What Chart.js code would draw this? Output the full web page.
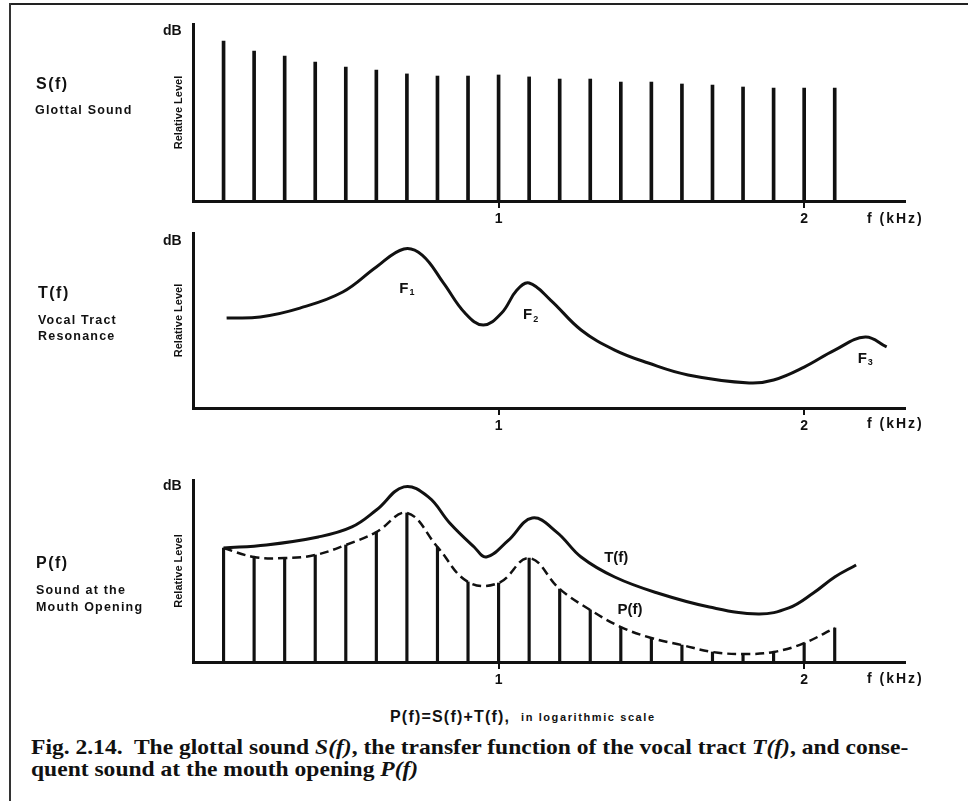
<!DOCTYPE html>
<html>
<head>
<meta charset="utf-8">
<script src="https://cdn.jsdelivr.net/npm/chart.js@4.4.1/dist/chart.umd.min.js"></script>
<style>
  body { margin: 0; background: #fff; }
  #fig { position: relative; width: 968px; height: 801px; overflow: hidden; color: #111;
         font-family: "Liberation Sans", Arial, sans-serif; font-weight: bold; }
  #fig canvas { position: absolute; left: 0; }
  .rule-top { position: absolute; left: 9px; top: 3px; width: 959px; border-top: 2px solid #222; }
  .rule-left { position: absolute; left: 9px; top: 3px; height: 798px; border-left: 2px solid #333; }
  .t { position: absolute; white-space: nowrap; line-height: 1; }
  .name { font-size: 16px; letter-spacing: 1.5px; }
  .desc { font-size: 12.5px; letter-spacing: 1.2px; }
  .db { font-size: 14px; left: 163px; }
  .fk { font-size: 14px; left: 867px; letter-spacing: 2px; }
  .cap { font-family: "Liberation Serif", "Times New Roman", serif; font-size: 21px; left: 31px;
         transform-origin: 0 50%; }
</style>
</head>
<body>
<div id="fig">
  <div class="rule-top"></div>
  <div class="rule-left"></div>

  <canvas id="glottal" width="968" height="235" style="top:0px"></canvas>
  <canvas id="tract" width="968" height="220" style="top:225px"></canvas>
  <canvas id="mouth" width="968" height="230" style="top:465px"></canvas>

  <div class="t name" style="left:36px;top:76px">S(f)</div>
  <div class="t desc" style="left:35px;top:104px">Glottal Sound</div>
  <div class="t name" style="left:38px;top:285px">T(f)</div>
  <div class="t desc" style="left:38px;top:314px">Vocal Tract</div>
  <div class="t desc" style="left:38px;top:330px">Resonance</div>
  <div class="t name" style="left:36px;top:555px">P(f)</div>
  <div class="t desc" style="left:36px;top:584px">Sound at the</div>
  <div class="t desc" style="left:36px;top:601px">Mouth Opening</div>

  <div class="t db" style="top:23px">dB</div>
  <div class="t db" style="top:233px">dB</div>
  <div class="t db" style="top:478px">dB</div>
  <div class="t fk" style="top:211px">f (kHz)</div>
  <div class="t fk" style="top:416px">f (kHz)</div>
  <div class="t fk" style="top:671px">f (kHz)</div>

  <div class="t" style="left:390px;top:709px;font-size:16px;letter-spacing:1.2px">P(f)=S(f)+T(f),</div>
  <div class="t" style="left:521px;top:712px;font-size:11px;letter-spacing:1.6px">in logarithmic scale</div>
  <div class="t cap" id="cap1" style="top:737px">Fig. 2.14.&nbsp; The glottal sound <i>S(f)</i>, the transfer function of the vocal tract <i>T(f)</i>, and conse-</div>
  <div class="t cap" id="cap2" style="top:759px">quent sound at the mouth opening <i>P(f)</i></div>
</div>

<script>
// harmonics of the glottal sound (kHz)
const harmonicFreq = [0.1, 0.2, 0.3, 0.4, 0.5, 0.6, 0.7, 0.8, 0.9, 1.0, 1.1,
                      1.2, 1.3, 1.4, 1.5, 1.6, 1.7, 1.8, 1.9, 2.0, 2.1];
// S(f) relative level of each harmonic
const glottalLevel = [90.4, 84.7, 81.9, 78.5, 75.7, 74.0, 71.8, 70.6, 70.6, 71.2, 70.1,
                      68.9, 68.9, 67.2, 67.2, 66.1, 65.5, 64.4, 63.8, 63.8, 63.8];
// T(f) vocal tract resonance curve
const tractFreq  = [0.11, 0.22, 0.35, 0.49, 0.60, 0.69, 0.75, 0.82, 0.89, 0.95, 1.01, 1.06,
                    1.10, 1.17, 1.27, 1.38, 1.49, 1.62, 1.82, 1.90, 2.00, 2.10, 2.20, 2.27];
const tractLevel = [51.4, 52.0, 57.1, 66.3, 80.6, 90.9, 87.4, 71.4, 54.3, 47.4, 54.3, 67.4,
                    71.4, 61.7, 44.6, 33.1, 25.7, 18.9, 14.3, 16.0, 23.4, 33.1, 40.6, 34.9];
// P(f) level at each harmonic (stems and dashed envelope)
const mouthLevel = [62.6, 57.7, 57.1, 58.8, 64.3, 71.4, 81.9, 63.2, 44.0, 43.4, 57.1,
                    40.1, 28.6, 19.2, 13.2, 9.3, 5.5, 4.4, 5.5, 10.4, 18.7];
// T(f) as redrawn over P(f) in the bottom panel
const mouthTractFreq  = [0.10, 0.24, 0.41, 0.52, 0.60, 0.69, 0.77, 0.84, 0.92, 0.96, 1.03,
                         1.11, 1.19, 1.27, 1.38, 1.52, 1.69, 1.85, 1.95, 2.03, 2.10, 2.17];
const mouthTractLevel = [62.6, 64.3, 68.7, 74.2, 83.5, 96.2, 90.7, 76.4, 63.2, 57.7, 66.5,
                         79.1, 71.4, 57.7, 46.7, 37.9, 30.2, 26.4, 29.7, 37.9, 46.7, 53.3];
const freqTicks = [1, 2];
const freqMax = 2.33;

const ink = '#111';
const sans = '"Liberation Sans", Arial, sans-serif';

Chart.defaults.animation = false;
Chart.defaults.devicePixelRatio = 1;
Chart.defaults.plugins.legend.display = false;
Chart.defaults.plugins.tooltip.enabled = false;

function pairs(xs, ys) {
  return xs.map((x, i) => ({ x: x, y: ys[i] }));
}

// text marks (F1, F2 ...) placed in data units
const notes = {
  id: 'notes',
  afterDatasetsDraw(chart, args, opts) {
    const { ctx, scales } = chart;
    (opts.items || []).forEach(n => {
      const px = scales.x.getPixelForValue(n.at[0]);
      const py = scales.y.getPixelForValue(n.at[1]);
      ctx.save();
      ctx.fillStyle = ink;
      ctx.textBaseline = 'middle';
      ctx.font = 'bold 15px ' + sans;
      const w = ctx.measureText(n.text).width;
      ctx.font = 'bold 9px ' + sans;
      const sw = n.sub ? ctx.measureText(n.sub).width + 1 : 0;
      const left = px - (w + sw) / 2;
      ctx.font = 'bold 15px ' + sans;
      ctx.fillText(n.text, left, py);
      if (n.sub) {
        ctx.font = 'bold 9px ' + sans;
        ctx.fillText(n.sub, left + w + 1, py + 4);
      }
      ctx.restore();
    });
  }
};

function scales() {
  return {
    x: {
      type: 'linear', min: 0, max: freqMax, offset: false,
      afterBuildTicks: s => { s.ticks = freqTicks.map(v => ({ value: v })); },
      afterFit: s => { s.height = 30; },
      grid: { display: true, drawOnChartArea: false, drawTicks: true, tickLength: 7,
              color: ink, lineWidth: 2, offset: false },
      border: { display: true, color: ink, width: 3 },
      ticks: { color: ink, padding: 3, maxRotation: 0, autoSkip: false,
               font: { family: sans, weight: 'bold', size: 14 } }
    },
    y: {
      min: 0, max: 100,
      afterFit: s => { s.width = 33; },
      grid: { display: false },
      border: { display: true, color: ink, width: 3 },
      ticks: { display: false },
      title: { display: true, text: 'Relative Level', color: ink,
               font: { family: sans, weight: 'bold', size: 11 },
               padding: { top: 12, bottom: 0 } }
    }
  };
}

function pad(top, bottom) {
  return { padding: { left: 160, right: 63, top: top, bottom: bottom } };
}

new Chart(document.getElementById('glottal'), {
  type: 'bar',
  data: {
    datasets: [{
      data: pairs(harmonicFreq, glottalLevel),
      backgroundColor: ink, barThickness: 3
    }]
  },
  options: { responsive: false, layout: pad(24, 4), scales: scales() }
});

new Chart(document.getElementById('tract'), {
  type: 'line',
  data: {
    datasets: [{
      data: pairs(tractFreq, tractLevel),
      borderColor: ink, borderWidth: 3, pointRadius: 0, tension: 0.4
    }]
  },
  options: {
    responsive: false, layout: pad(8, 7), scales: scales(),
    plugins: { notes: { items: [
      { text: 'F', sub: '1', at: [0.70, 68] },
      { text: 'F', sub: '2', at: [1.105, 53] },
      { text: 'F', sub: '3', at: [2.20, 28] }
    ] } }
  },
  plugins: [notes]
});

new Chart(document.getElementById('mouth'), {
  type: 'bar',
  data: {
    datasets: [{
      type: 'bar',
      data: pairs(harmonicFreq, mouthLevel),
      backgroundColor: ink, barThickness: 2.5, order: 3
    }, {
      type: 'line',
      data: pairs(harmonicFreq, mouthLevel),
      borderColor: ink, borderWidth: 2.5, borderDash: [9, 5], pointRadius: 0,
      tension: 0.4, order: 2
    }, {
      type: 'line',
      data: pairs(mouthTractFreq, mouthTractLevel),
      borderColor: ink, borderWidth: 3, pointRadius: 0,
      tension: 0.4, order: 1
    }]
  },
  options: {
    responsive: false, layout: pad(15, 3), scales: scales(),
    plugins: { notes: { items: [
      { text: 'T(f)', at: [1.385, 57] },
      { text: 'P(f)', at: [1.43, 28.5] }
    ] } }
  },
  plugins: [notes]
});

// stretch the caption to the width of the printed line
const cap1 = document.getElementById('cap1');
const k = 877 / cap1.getBoundingClientRect().width;
['cap1', 'cap2'].forEach(id => {
  document.getElementById(id).style.transform = 'scaleX(' + k.toFixed(3) + ')';
});
</script>
</body>
</html>
